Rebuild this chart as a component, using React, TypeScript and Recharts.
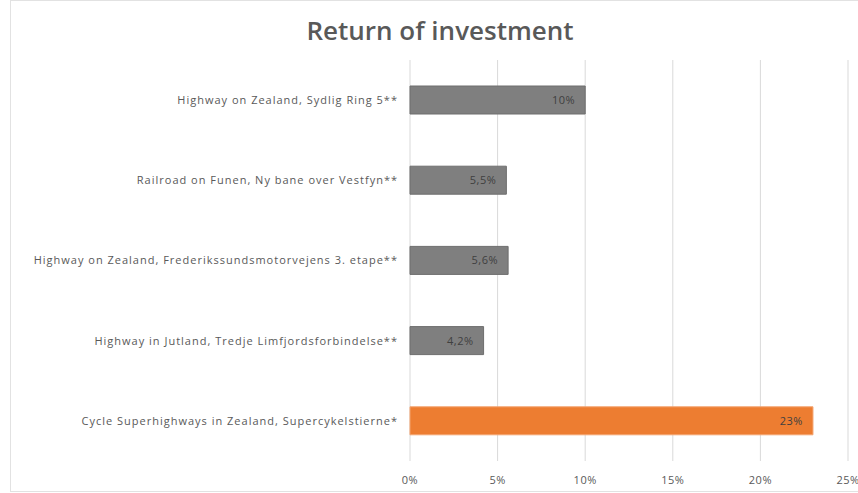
import { Bar, BarChart, CartesianGrid, Cell, LabelList, XAxis, YAxis } from "recharts";

const projects = [
  "Highway on Zealand, Sydlig Ring 5**",
  "Railroad on Funen, Ny bane over Vestfyn**",
  "Highway on Zealand, Frederikssundsmotorvejens 3. etape**",
  "Highway in Jutland, Tredje Limfjordsforbindelse**",
  "Cycle Superhighways in Zealand, Supercykelstierne*",
];
const returns = [10, 5.5, 5.6, 4.2, 23];
const percentTicks = [0, 5, 10, 15, 20, 25];
const highlighted = "Cycle Superhighways in Zealand, Supercykelstierne*";

const data = projects.map((name, i) => ({ name, value: returns[i] }));

const fmt = (v: number) => `${String(v).replace(".", ",")}%`;
const font = "'Open Sans', sans-serif";

export default function App() {
  return (
    <div
      style={{
        position: "absolute",
        left: 0,
        top: 0,
        width: 858,
        height: 493,
        overflow: "hidden",
        background: "#fff",
        fontFamily: font,
      }}
    >
      <div
        style={{
          position: "absolute",
          left: 10,
          top: 0,
          width: 870,
          height: 490,
          border: "1.5px solid #e2e2e2",
        }}
      />
      <div
        style={{
          position: "absolute",
          left: 0,
          top: 12,
          width: 880,
          textAlign: "center",
          fontSize: 26,
          fontWeight: 600,
          color: "#595959",
        }}
      >
        Return of investment
      </div>
      <div style={{ position: "absolute", left: 0, top: 0 }}>
        <BarChart
          width={858}
          height={493}
          data={data}
          layout="vertical"
          margin={{ top: 60, right: 10, left: 0, bottom: 0 }}
          barSize={28}
        >
          <CartesianGrid horizontal={false} stroke="#d9d9d9" />
          <XAxis
            type="number"
            domain={[0, 25]}
            ticks={percentTicks}
            tickFormatter={fmt}
            axisLine={false}
            tickLine={false}
            tickMargin={9}
            height={32}
            interval={0}
            tick={{ fill: "#595959", fontSize: 11, fontFamily: font, letterSpacing: 0.5 }}
          />
          <YAxis
            type="category"
            dataKey="name"
            width={410}
            axisLine={false}
            tickLine={false}
            tickMargin={6}
            interval={0}
            tick={{ fill: "#595959", fontSize: 11, fontFamily: font, letterSpacing: 1 }}
          />
          <Bar dataKey="value" isAnimationActive={false}>
            {data.map((d) => (
              <Cell
                key={d.name}
                fill={d.name === highlighted ? "#ed7d31" : "#7f7f7f"}
                stroke={d.name === highlighted ? "#f4a46f" : "#6e6e6e"}
                strokeWidth={1}
              />
            ))}
            <LabelList
              dataKey="value"
              position="insideRight"
              offset={10}
              formatter={(v: any) => fmt(Number(v))}
              style={{ fill: "#404040", fontSize: 11, fontFamily: font, letterSpacing: 0.5 }}
            />
          </Bar>
        </BarChart>
      </div>
    </div>
  );
}
